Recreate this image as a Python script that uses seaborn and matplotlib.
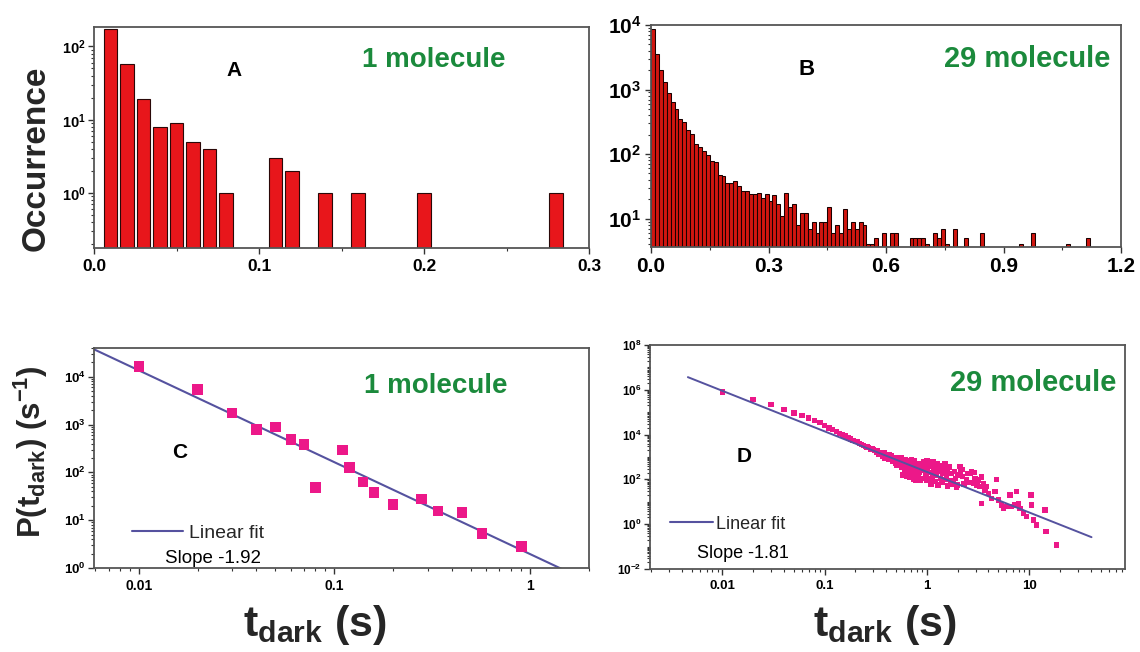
import numpy as np
import pandas as pd
import matplotlib
matplotlib.use("Agg")
import matplotlib.pyplot as plt
import seaborn as sns
from matplotlib.ticker import FixedLocator, FixedFormatter, FuncFormatter, LogLocator, NullFormatter, MultipleLocator
from matplotlib.lines import Line2D
from matplotlib.font_manager import FontProperties

sns.set_theme(style="white")
plt.rcParams['font.family'] = ['Liberation Sans', 'DejaVu Sans']
plt.rcParams['font.weight'] = 'bold'
plt.rcParams['mathtext.fontset'] = 'custom'
plt.rcParams['mathtext.rm'] = 'Liberation Sans:bold'
plt.rcParams['mathtext.it'] = 'Liberation Sans:bold'
plt.rcParams['mathtext.bf'] = 'Liberation Sans:bold'
plt.rcParams['mathtext.default'] = 'rm'

# ---------------- data ----------------
# Panel A: histogram, 1 molecule
a_t = [0.01, 0.02, 0.03, 0.04, 0.05, 0.06, 0.07, 0.08, 0.11, 0.12, 0.14, 0.16, 0.20, 0.28]
a_count = [172, 57, 19, 8, 9, 5, 4, 1, 3, 2, 1, 1, 1, 1]

# Panel B: histogram, 29 molecules, bins of 0.01 s starting at 0
b_bin_width = 0.01
b_count = [8700, 3560, 2040, 1300, 870, 636, 500, 354, 310, 232,
           202, 144, 128, 112, 98, 78, 75, 47, 45, 36,
           35, 38, 32, 27, 27, 24, 24, 25, 21, 24,
           19, 23, 17, 11, 25, 15, 17, 8, 12, 12,
           7, 9, 6, 9, 9, 15, 6, 8, 6, 14,
           7, 9, 7, 9, 8, 4, 4, 5, 0, 6,
           0, 6, 6, 0, 0, 0, 5, 5, 5, 5,
           4, 0, 6, 5, 7, 4, 0, 7, 0, 0,
           5, 0, 0, 0, 6, 0, 0, 0, 0, 0,
           0, 0, 0, 0, 4, 0, 0, 6, 0, 0,
           0, 0, 0, 0, 0, 0, 4, 0, 0, 0,
           0, 5]

# Panel C: P(t_dark), 1 molecule
c_t = [0.01, 0.02, 0.03, 0.04, 0.05, 0.06, 0.07, 0.08, 0.11, 0.12,
       0.14, 0.16, 0.20, 0.28, 0.34, 0.45, 0.57, 0.91]
c_p = [16200, 5400, 1750, 780, 890, 490, 385, 48, 295, 127,
       63, 38, 21.5, 27.5, 15.6, 14.5, 5.3, 2.8]
c_fit_slope = -1.92
c_fit_amp = 1.97
c_fit_t = [0.005, 2.0]

# Panel D: P(t_dark), 29 molecules (log10 of P)
d_t = [0.01, 0.02, 0.03, 0.04, 0.05, 0.06, 0.07, 0.08, 0.09,
       0.10, 0.11, 0.12, 0.13, 0.14, 0.15, 0.16, 0.17, 0.18, 0.19, 0.20,
       0.21, 0.22, 0.23, 0.24, 0.25, 0.26, 0.27, 0.28, 0.29, 0.30,
       0.31, 0.32, 0.33, 0.34, 0.35, 0.36, 0.37, 0.38, 0.39, 0.40,
       0.41, 0.42, 0.43, 0.44, 0.45, 0.46, 0.47, 0.48, 0.49, 0.50,
       0.51, 0.52, 0.53, 0.54, 0.55, 0.56, 0.57, 0.58, 0.59, 0.60,
       0.61, 0.62, 0.63, 0.64, 0.65, 0.66, 0.67, 0.68, 0.69, 0.70,
       0.71, 0.72, 0.73, 0.74, 0.75, 0.76, 0.77, 0.78, 0.79, 0.80,
       0.82, 0.84, 0.85, 0.87, 0.88, 0.90, 0.92, 0.93, 0.95, 0.97,
       0.98, 1.00, 1.00, 1.02, 1.05, 1.05, 1.08, 1.10, 1.10, 1.13,
       1.15, 1.17, 1.20, 1.20, 1.23, 1.25, 1.28, 1.30, 1.33, 1.35,
       1.38, 1.40, 1.43, 1.45, 1.50, 1.50, 1.55, 1.60, 1.60, 1.65,
       1.70, 1.75, 1.80, 1.85, 1.90, 1.95, 2.00, 2.00, 2.10, 2.14,
       2.20, 2.23, 2.30, 2.44, 2.50, 2.60, 2.64, 2.74, 2.84, 2.90,
       2.95, 3.10, 3.18, 3.30, 3.40, 3.43, 3.60, 3.69, 3.84, 3.98,
       4.30, 4.62, 4.80, 4.99, 5.37, 5.58, 6.01, 6.49, 6.73, 7.26,
       7.53, 7.82, 8.13, 8.75, 9.44, 10.4, 10.6, 11.0, 11.8, 14.3,
       14.6, 18.5]
d_log10p = [5.91, 5.57, 5.34, 5.12, 4.97, 4.85, 4.74, 4.64, 4.55,
            4.42, 4.30, 4.22, 4.15, 4.06, 3.98, 3.93, 3.85, 3.80, 3.74, 3.70,
            3.68, 3.60, 3.55, 3.52, 3.47, 3.45, 3.43, 3.35, 3.38, 3.33,
            3.30, 3.22, 3.28, 3.10, 3.20, 3.15, 3.05, 3.18, 2.95, 3.10,
            3.02, 2.88, 3.12, 2.92, 3.05, 2.80, 2.98, 2.85, 2.70, 2.95,
            2.62, 2.88, 2.75, 2.90, 2.68, 2.95, 2.55, 2.20, 2.80, 2.62,
            2.40, 2.90, 2.70, 2.15, 2.58, 2.85, 2.35, 2.10, 2.65, 2.48,
            2.90, 2.25, 2.70, 2.02, 2.55, 2.82, 2.38, 1.98, 2.62, 2.45,
            2.15, 2.70, 2.30, 1.95, 2.55, 2.40, 2.78, 2.05, 2.50, 2.65,
            2.20, 2.85, 1.95, 2.45, 2.70, 2.05, 2.30, 1.80, 2.60, 2.15,
            2.80, 2.40, 1.90, 2.55, 2.20, 2.70, 1.75, 2.35, 2.50, 2.05,
            2.62, 1.85, 2.25, 2.45, 2.00, 2.68, 2.15, 1.70, 2.40, 2.55,
            1.95, 2.25, 1.80, 2.35, 2.05, 1.65, 2.20, 1.75, 2.57, 2.35,
            2.45, 2.12, 1.80, 1.97, 2.25, 1.85, 2.27, 2.35, 1.82, 2.30,
            2.05, 1.75, 1.97, 1.68, 2.10, 0.93, 1.80, 1.53, 1.68, 1.38,
            1.16, 1.45, 2.00, 1.08, 0.86, 0.71, 0.78, 1.30, 0.78, 0.86,
            1.45, 0.93, 0.71, 0.49, 0.34, 1.30, 0.86, 0.19, -0.04, 0.63,
            -0.33, -0.93]
d_fit_slope = -1.81
d_fit_amp = 216.0
d_fit_t = [0.0046, 40.7]

# ---------------- style ----------------
BAR_RED = '#e8161b'
PINK = '#ec1889'
FIT = '#55529f'
GREEN = '#1b8a3c'
SPINE = '#555555'

W, H = 1140, 652
fig = plt.figure(figsize=(W / 100, H / 100), dpi=100)
fig.patch.set_facecolor('white')


def box(l, t, r, b):
    return [l / W, 1 - b / H, (r - l) / W, (b - t) / H]


axA = fig.add_axes(box(94, 27, 589, 248))
axB = fig.add_axes(box(651, 25, 1121, 247))
axC = fig.add_axes(box(94, 348, 589, 568))
axD = fig.add_axes(box(650, 345, 1125, 569))

log_fmt = FuncFormatter(lambda v, p: r'$10^{%d}$' % int(round(np.log10(v))))

for ax in (axA, axB, axC, axD):
    ax.set_facecolor('white')
    for s in ax.spines.values():
        s.set_visible(True)
        s.set_color(SPINE)
        s.set_linewidth(1.3)

# ---- Panel A ----
dfA = pd.DataFrame({'t': a_t, 'n': a_count})
sns.barplot(data=dfA, x='t', y='n', native_scale=True, orient='x', width=0.83,
            color=BAR_RED, saturation=1, edgecolor='#2a0808', linewidth=0.8,
            errorbar=None, ax=axA)
axA.set_yscale('log')
axA.set_ylim(0.178, 184)
axA.set_xlim(0, 0.3)
axA.xaxis.set_major_locator(FixedLocator([0.0, 0.1, 0.2, 0.3]))
axA.xaxis.set_major_formatter(FuncFormatter(lambda v, p: '%.1f' % v))
axA.xaxis.set_minor_locator(MultipleLocator(0.05))
axA.yaxis.set_major_locator(FixedLocator([1, 10, 100]))
axA.yaxis.set_major_formatter(log_fmt)
axA.yaxis.set_minor_locator(LogLocator(base=10, subs=np.arange(2, 10), numticks=20))
axA.yaxis.set_minor_formatter(NullFormatter())
axA.tick_params(axis='x', labelsize=12.5, pad=4)
axA.tick_params(axis='y', labelsize=10.5, pad=2)
axA.set_xlabel('')
axA.set_ylabel('')
axA.text(0.283, 0.805, 'A', transform=axA.transAxes, fontsize=15, fontweight='bold',
         ha='center', va='center', color='black')
axA.text(0.687, 0.85, '1 molecule', transform=axA.transAxes, fontsize=20, fontweight='bold',
         ha='center', va='center', color=GREEN)

# ---- Panel B ----
b_left = np.arange(len(b_count)) * b_bin_width
dfB = pd.DataFrame({'t': np.round(b_left + b_bin_width / 2, 4), 'n': b_count})
dfB = dfB[dfB['n'] > 0]
sns.barplot(data=dfB, x='t', y='n', native_scale=True, orient='x', width=1.0,
            color='#d01610', saturation=1, edgecolor='#1a0000', linewidth=0.75,
            errorbar=None, ax=axB)
axB.set_yscale('log')
axB.set_ylim(3.63, 1.0e4)
axB.set_xlim(0, 1.2)
axB.xaxis.set_major_locator(FixedLocator([0.0, 0.3, 0.6, 0.9, 1.2]))
axB.xaxis.set_major_formatter(FuncFormatter(lambda v, p: '%.1f' % v))
axB.xaxis.set_minor_locator(MultipleLocator(0.15))
axB.yaxis.set_major_locator(FixedLocator([10, 100, 1000, 10000]))
axB.yaxis.set_major_formatter(log_fmt)
axB.yaxis.set_minor_locator(LogLocator(base=10, subs=np.arange(2, 10), numticks=20))
axB.yaxis.set_minor_formatter(NullFormatter())
axB.tick_params(axis='both', labelsize=15, pad=3)
axB.set_xlabel('')
axB.set_ylabel('')
axB.text(0.33, 0.80, 'B', transform=axB.transAxes, fontsize=16, fontweight='bold',
         ha='center', va='center', color='black')
axB.text(0.80, 0.845, '29 molecule', transform=axB.transAxes, fontsize=21, fontweight='bold',
         ha='center', va='center', color=GREEN)

# ---- Panel C ----
axC.set_xscale('log')
axC.set_yscale('log')
cfit_p = [c_fit_amp * t ** c_fit_slope for t in c_fit_t]
sns.lineplot(x=c_fit_t, y=cfit_p, color=FIT, linewidth=1.5, ax=axC)
sns.scatterplot(x=c_t, y=c_p, marker='s', s=58, color=PINK, edgecolor='none', ax=axC, zorder=3)
axC.set_xlim(0.0059, 2.01)
axC.set_ylim(1.0, 4.0e4)
axC.xaxis.set_major_locator(FixedLocator([0.01, 0.1, 1]))
axC.xaxis.set_major_formatter(FixedFormatter(['0.01', '0.1', '1']))
axC.xaxis.set_minor_locator(LogLocator(base=10, subs=np.arange(2, 10), numticks=20))
axC.xaxis.set_minor_formatter(NullFormatter())
axC.yaxis.set_major_locator(FixedLocator([1, 10, 100, 1000, 10000]))
axC.yaxis.set_major_formatter(log_fmt)
axC.yaxis.set_minor_locator(LogLocator(base=10, subs=np.arange(2, 10), numticks=20))
axC.yaxis.set_minor_formatter(NullFormatter())
axC.tick_params(axis='x', labelsize=10, pad=4)
axC.tick_params(axis='y', labelsize=9.5, pad=2)
axC.set_xlabel('')
axC.set_ylabel('')
axC.text(0.69, 0.826, '1 molecule', transform=axC.transAxes, fontsize=20, fontweight='bold',
         ha='center', va='center', color=GREEN)
axC.text(0.174, 0.523, 'C', transform=axC.transAxes, fontsize=15, fontweight='bold',
         ha='center', va='center', color='black')
legC = axC.legend(handles=[Line2D([], [], color=FIT, lw=1.5)], labels=['Linear fit'],
                  loc='center left', bbox_to_anchor=(0.077, 0.16), frameon=False,
                  handlelength=2.6, handletextpad=0.3, borderpad=0, borderaxespad=0,
                  prop=FontProperties(family='Liberation Sans', weight='normal', size=14))
axC.text(0.143, 0.045, 'Slope -1.92', transform=axC.transAxes, fontsize=13.5,
         fontweight='normal', ha='left', va='center', color='black')

# ---- Panel D ----
axD.set_xscale('log')
axD.set_yscale('log')
dfD = pd.DataFrame({'t': d_t, 'p': [10.0 ** v for v in d_log10p]})
dfit_p = [d_fit_amp * t ** d_fit_slope for t in d_fit_t]
sns.scatterplot(data=dfD, x='t', y='p', marker='s', s=15, color=PINK, edgecolor='none', ax=axD, zorder=2)
sns.lineplot(x=d_fit_t, y=dfit_p, color=FIT, linewidth=1.4, ax=axD, zorder=3)
axD.set_xlim(0.00196, 86.5)
axD.set_ylim(1e-2, 1e8)
axD.xaxis.set_major_locator(FixedLocator([0.01, 0.1, 1, 10]))
axD.xaxis.set_major_formatter(FixedFormatter(['0.01', '0.1', '1', '10']))
axD.xaxis.set_minor_locator(LogLocator(base=10, subs=np.arange(2, 10), numticks=20))
axD.xaxis.set_minor_formatter(NullFormatter())
axD.yaxis.set_major_locator(FixedLocator([1e-2, 1e0, 1e2, 1e4, 1e6, 1e8]))
axD.yaxis.set_major_formatter(log_fmt)
axD.yaxis.set_minor_locator(LogLocator(base=10, subs=np.arange(1, 10), numticks=30))
axD.yaxis.set_minor_formatter(NullFormatter())
axD.tick_params(axis='x', labelsize=9.5, pad=4)
axD.tick_params(axis='y', labelsize=8.5, pad=2)
axD.set_xlabel('')
axD.set_ylabel('')
axD.text(0.806, 0.83, '29 molecule', transform=axD.transAxes, fontsize=21, fontweight='bold',
         ha='center', va='center', color=GREEN)
axD.text(0.198, 0.50, 'D', transform=axD.transAxes, fontsize=15, fontweight='bold',
         ha='center', va='center', color='black')
legD = axD.legend(handles=[Line2D([], [], color=FIT, lw=1.5)], labels=['Linear fit'],
                  loc='center left', bbox_to_anchor=(0.042, 0.20), frameon=False,
                  handlelength=2.4, handletextpad=0.15, borderpad=0, borderaxespad=0,
                  prop=FontProperties(family='Liberation Sans', weight='normal', size=13))
axD.text(0.099, 0.07, 'Slope -1.81', transform=axD.transAxes, fontsize=13,
         fontweight='normal', ha='left', va='center', color='black')

# ticks
for ax in (axA, axB, axC, axD):
    ax.tick_params(which='major', direction='out', length=4, width=1.0, color='#333333',
                   bottom=True, left=True, top=False, right=False, labelcolor='black')
    ax.tick_params(which='minor', direction='out', length=2, width=0.8, color='#333333',
                   bottom=True, left=True, top=False, right=False)
    for lab in ax.get_xticklabels() + ax.get_yticklabels():
        lab.set_fontweight('bold')

# axis titles
fig.text(36 / W, 1 - 158 / H, 'Occurrence', rotation=90, fontsize=24, fontweight='bold',
         ha='center', va='center')
fig.text(31 / W, 1 - 452 / H, r'P(t$_{dark}$) (s$^{-1}$)', rotation=90, fontsize=22.5,
         fontweight='bold', ha='center', va='center')
fig.text(315 / W, 1 - 625 / H, r't$_{dark}$ (s)', fontsize=31, fontweight='bold',
         ha='center', va='center')
fig.text(885 / W, 1 - 625 / H, r't$_{dark}$ (s)', fontsize=31, fontweight='bold',
         ha='center', va='center')

fig.savefig('out.png', dpi=100, facecolor='white')
